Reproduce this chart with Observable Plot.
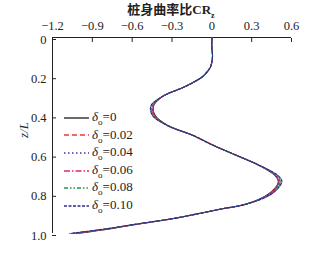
<!DOCTYPE html>
<html><head><meta charset="utf-8">
<script src="https://cdn.jsdelivr.net/npm/d3@7"></script>
<script src="https://cdn.jsdelivr.net/npm/@observablehq/plot@0.6"></script>
<style>
body{margin:0;background:#fff;}
#wrap{position:relative;width:329px;height:253px;font-family:"Liberation Serif","Noto Sans CJK SC",serif;}
#title{position:absolute;left:0;width:342px;top:2px;text-align:center;font-size:13px;line-height:13px;font-weight:bold;color:#222;}
#title .cjk{font-family:"Noto Sans CJK SC";}
#title sub{font-size:8px;line-height:0;}
#legend{position:absolute;left:63px;top:109px;font-size:13px;color:#222;}
#legend .row{height:17.6px;display:flex;align-items:center;}
#legend svg{margin-right:2px;}
#ylab{position:absolute;left:16px;top:122px;font-size:13px;font-style:italic;transform:rotate(-90deg);color:#222;}
</style></head>
<body><div id="wrap"><div id="title"><span class="cjk">桩身曲率比</span>CR<sub>z</sub></div><div id="ylab">z/L</div><div id="legend"></div></div>
<script>
const zs   = [0,0.05,0.1,0.15,0.175,0.2,0.25,0.3,0.35,0.4,0.45,0.5,0.55,0.6,0.65,0.7,0.73,0.75,0.8,0.85,0.875,0.9,0.925,0.95,0.975,1.0];
const d000 = [0,0.0,0.005,-0.01,-0.035,-0.07,-0.20,-0.37,-0.440,-0.425,-0.33,-0.14,0.01,0.18,0.35,0.470,0.500,0.495,0.425,0.26,0.07,-0.11,-0.30,-0.54,-0.76,-1.02];
const d002 = [0,0.0,0.005,-0.01,-0.035,-0.07,-0.20,-0.37,-0.442,-0.427,-0.33,-0.14,0.01,0.18,0.35,0.472,0.503,0.498,0.428,0.26,0.07,-0.11,-0.30,-0.54,-0.765,-1.03];
const d004 = [0,0.0,0.005,-0.01,-0.035,-0.07,-0.20,-0.37,-0.446,-0.431,-0.33,-0.14,0.01,0.18,0.35,0.476,0.508,0.503,0.432,0.26,0.07,-0.11,-0.30,-0.545,-0.77,-1.04];
const d006 = [0,0.0,0.005,-0.01,-0.035,-0.07,-0.20,-0.37,-0.450,-0.435,-0.33,-0.14,0.01,0.18,0.35,0.480,0.513,0.508,0.437,0.26,0.07,-0.11,-0.30,-0.545,-0.775,-1.05];
const d008 = [0,0.0,0.005,-0.01,-0.035,-0.07,-0.20,-0.37,-0.455,-0.440,-0.33,-0.14,0.01,0.18,0.35,0.485,0.520,0.514,0.442,0.26,0.07,-0.11,-0.30,-0.55,-0.78,-1.06];
const d010 = [0,0.0,0.005,-0.01,-0.035,-0.07,-0.20,-0.37,-0.460,-0.445,-0.33,-0.14,0.01,0.18,0.35,0.490,0.527,0.520,0.447,0.26,0.07,-0.11,-0.30,-0.55,-0.785,-1.07];
const seriesNames = ["0","0.02","0.04","0.06","0.08","0.10"];
const seriesVals = [d000,d002,d004,d006,d008,d010];
const colors = ["#1a1a1a","#e8383d","#3a3aa8","#e0287a","#1f9a45","#2c2c8c"];
const dashes = ["none","5,3","1.5,2.5","6,2,1.5,2","4,2,1.5,2,1.5,2","3,1.5"];
const xTicks = [-1.2,-0.9,-0.6,-0.3,0,0.3,0.6];
const yTicks = [0,0.2,0.4,0.6,0.8,1.0];

const fmt = d => d === 0 ? "0" : d3.format(".1f")(d);
const marks = [];
seriesVals.forEach((vals, i) => {
  const data = zs.map((z, k) => ({z, x: vals[k]}));
  marks.push(Plot.line(data, {x: "x", y: "z", stroke: colors[i], strokeWidth: 1.1, strokeDasharray: dashes[i], curve: "catmull-rom"}));
});
const chart = Plot.plot({
  width: 329, height: 253,
  marginLeft: 52, marginRight: 38, marginTop: 37, marginBottom: 20,
  style: {fontFamily: "Liberation Serif", fontSize: "12px", color: "#222", background: "#fff"},
  x: {domain: [-1.2, 0.6], axis: null},
  y: {domain: [0, 1], reverse: true, axis: null},
  marks: [
    Plot.axisX({anchor: "top", ticks: xTicks, tickSize: -4, tickPadding: 11.5, tickFormat: fmt, label: null, fontSize: 12.5}),
    Plot.axisY({anchor: "left", ticks: yTicks, tickSize: -4, tickPadding: 10, tickFormat: fmt, label: null, fontSize: 12.5, dy: 2}),
    Plot.ruleY([0], {stroke: "#222"}),
    Plot.ruleX([-1.2], {stroke: "#222"}),
    ...marks
  ]
});
document.getElementById("wrap").prepend(chart);
chart.style.position = "absolute"; chart.style.left = "0"; chart.style.top = "0";

const leg = document.getElementById("legend");
seriesNames.forEach((n, i) => {
  const row = document.createElement("div");
  row.className = "row";
  row.innerHTML = `<svg width="27" height="6"><line x1="1" y1="3" x2="26" y2="3" stroke="${colors[i]}" stroke-width="1.3" stroke-dasharray="${dashes[i]}"/></svg><span><i>δ</i><sub style="font-size:9px">o</sub>=${n}</span>`;
  leg.appendChild(row);
});
</script></body></html>
